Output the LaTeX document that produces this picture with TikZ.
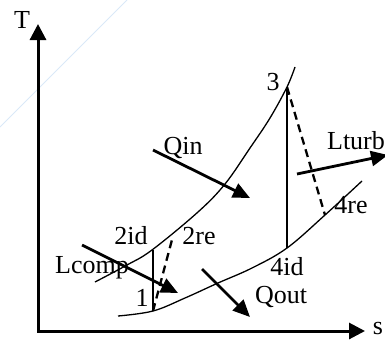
\documentclass[tikz,border=0pt]{standalone}
\usepackage{fontspec}
\setmainfont{Liberation Serif}
\usetikzlibrary{arrows.meta}
\begin{document}
\begin{tikzpicture}[x=1pt,y=-1pt,
  lbl/.style={font=\fontsize{26}{29}\selectfont, inner sep=0pt},
  axis/.style={line width=3pt, {Triangle[length=16pt,width=16pt]}-{Triangle[length=16pt,width=16pt]}},
  flow/.style={line width=2.8pt, -{Triangle[length=17pt,width=15pt]}},
  iso/.style={line width=1.3pt},
  ideal/.style={line width=1.3pt},
  real/.style={line width=2.3pt, dash pattern=on 8pt off 5pt}]
\useasboundingbox (0,0) rectangle (385,340);
% faint stray line
\draw[color={rgb,255:red,218;green,232;blue,248}, line width=1pt] (0,127) -- (127,0);
% axes
\coordinate (O) at (38,331);
\coordinate (Ttip) at (38,24);
\coordinate (Stip) at (365,331);
\draw[axis] (Ttip) -- (O) -- (Stip);
\node[lbl] (T) at (22,20) {T};
\node[lbl] (s) at (378,328) {s};
% isobars
\draw[iso] plot[smooth, tension=0.6] coordinates {(95,282) (127,265) (152,250) (198,212) (225,184) (250,148) (270,118) (287,87) (295,67)};
\draw[iso] plot[smooth, tension=0.6] coordinates {(118,316) (153,311) (185,298) (218,283) (252,268) (287,248) (325,215) (362,181)};
% state points
\coordinate (p1) at (153,311);
\coordinate (p2id) at (153,250);
\coordinate (p2re) at (173,236);
\coordinate (p3) at (287,87);
\coordinate (p4id) at (287,248);
\coordinate (p4re) at (325,215);
\draw[ideal] (p1) -- (p2id);
\draw[ideal] (p3) -- (p4id);
\draw[real] (p1) -- (p2re);
\draw[real] (p3) -- (p4re);
% energy arrows
\coordinate (qinA) at (153,150);
\coordinate (qinB) at (250,198);
\coordinate (lcA) at (82,245);
\coordinate (lcB) at (178,293);
\coordinate (qoA) at (202,269);
\coordinate (qoB) at (250,317);
\coordinate (ltA) at (297,174);
\coordinate (ltB) at (388,155);
\draw[flow] (qinA) -- (qinB);
\draw[flow] (lcA) -- (lcB);
\draw[flow] (qoA) -- (qoB);
\draw[flow] (ltA) -- (ltB);
% labels
\node[lbl] (l1) at (142,298) {1};
\node[lbl] (l2id) at (131,236) {2id};
\node[lbl] (l2re) at (199,236) {2re};
\node[lbl] (l3) at (273,82) {3};
\node[lbl] (l4id) at (287,267) {4id};
\node[lbl] (l4re) at (351,205) {4re};
\node[lbl] (qin) at (183,148) {Qin};
\node[lbl] (qout) at (281,297) {Qout};
\node[lbl] (lcomp) at (92,268) {Lcomp};
\node[lbl] (lturb) at (356,141) {Lturb};
\end{tikzpicture}
\end{document}
